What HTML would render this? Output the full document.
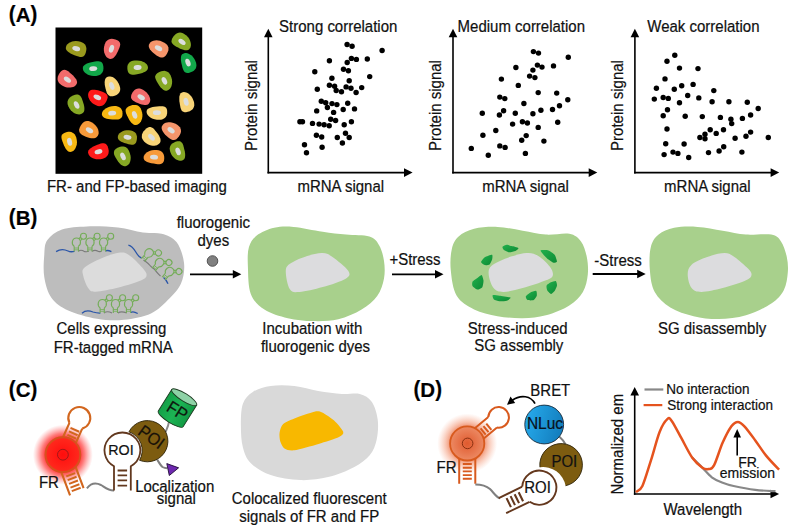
<!DOCTYPE html>
<html><head><meta charset="utf-8"><style>
html,body{margin:0;padding:0;background:#fff;width:798px;height:530px;overflow:hidden}
svg{display:block;font-family:"Liberation Sans",sans-serif}
text{stroke:#111;stroke-width:0.2px}
</style></head><body>
<svg width="798" height="530" viewBox="0 0 798 530">
<g font-size="20.5" font-weight="bold" fill="#000"><text transform="translate(8.80,21.00) scale(1,1.09)">(</text><text x="15.63" y="21.90">A</text><text transform="translate(30.43,21.00) scale(1,1.09)">)</text></g>
<rect x="55.5" y="27.5" width="146.7" height="146.3" fill="#000"/>
<g transform="translate(76.2,48.6) rotate(15)"><path d="M10.30,0.85 L10.17,2.86 L9.78,4.28 L9.14,5.39 L8.25,6.22 L7.13,6.77 L5.78,7.07 L4.21,7.14 L2.39,7.03 L0.00,6.78 L-2.39,6.49 L-4.21,6.11 L-5.78,5.67 L-7.13,5.14 L-8.25,4.54 L-9.14,3.85 L-9.78,3.06 L-10.17,2.13 L-10.30,0.85 L-10.17,-0.49 L-9.78,-1.61 L-9.14,-2.69 L-8.25,-3.75 L-7.13,-4.76 L-5.78,-5.70 L-4.21,-6.53 L-2.39,-7.19 L-0.00,-7.62 L2.39,-7.73 L4.21,-7.56 L5.78,-7.11 L7.13,-6.39 L8.25,-5.42 L9.14,-4.23 L9.78,-2.83 L10.17,-1.22Z" fill="#9a9a1e"/><ellipse rx="4" ry="2.4" fill="#dcdede"/></g>
<g transform="translate(111.5,48.8) rotate(108)"><path d="M10.09,-0.85 L9.97,0.51 L9.58,1.64 L8.95,2.73 L8.08,3.80 L6.98,4.83 L5.67,5.78 L4.13,6.62 L2.35,7.28 L0.00,7.72 L-2.35,7.83 L-4.13,7.66 L-5.67,7.21 L-6.98,6.48 L-8.08,5.51 L-8.95,4.30 L-9.58,2.88 L-9.97,1.24 L-10.09,-0.85 L-9.97,-2.89 L-9.58,-4.33 L-8.95,-5.46 L-8.08,-6.30 L-6.98,-6.86 L-5.67,-7.17 L-4.13,-7.25 L-2.35,-7.13 L-0.00,-6.88 L2.35,-6.58 L4.13,-6.20 L5.67,-5.74 L6.98,-5.21 L8.08,-4.60 L8.95,-3.90 L9.58,-3.10 L9.97,-2.15Z" fill="#f26b6b"/><ellipse rx="4" ry="2.4" fill="#dcdede"/></g>
<g transform="translate(158.5,48.2) rotate(30)"><path d="M10.09,0.57 L9.97,2.61 L9.58,4.09 L8.95,5.27 L8.08,6.17 L6.98,6.80 L5.67,7.17 L4.13,7.31 L2.35,7.25 L0.00,7.02 L-2.35,6.70 L-4.13,6.27 L-5.67,5.75 L-6.98,5.15 L-8.08,4.46 L-8.95,3.70 L-9.58,2.85 L-9.97,1.88 L-10.09,0.57 L-9.97,-0.78 L-9.58,-1.88 L-8.95,-2.93 L-8.08,-3.94 L-6.98,-4.89 L-5.67,-5.78 L-4.13,-6.55 L-2.35,-7.17 L-0.00,-7.58 L2.35,-7.72 L4.13,-7.59 L5.67,-7.20 L6.98,-6.55 L8.08,-5.64 L8.95,-4.49 L9.58,-3.12 L9.97,-1.52Z" fill="#f5956b"/><ellipse rx="4" ry="2.4" fill="#dcdede"/></g>
<g transform="translate(182.0,41.9) rotate(35)"><path d="M10.09,0.85 L9.97,2.15 L9.58,3.10 L8.95,3.90 L8.08,4.60 L6.98,5.21 L5.67,5.74 L4.13,6.20 L2.35,6.58 L0.00,6.88 L-2.35,7.13 L-4.13,7.25 L-5.67,7.17 L-6.98,6.86 L-8.08,6.30 L-8.95,5.46 L-9.58,4.33 L-9.97,2.89 L-10.09,0.85 L-9.97,-1.24 L-9.58,-2.88 L-8.95,-4.30 L-8.08,-5.51 L-6.98,-6.48 L-5.67,-7.21 L-4.13,-7.66 L-2.35,-7.83 L-0.00,-7.72 L2.35,-7.28 L4.13,-6.62 L5.67,-5.78 L6.98,-4.83 L8.08,-3.80 L8.95,-2.73 L9.58,-1.64 L9.97,-0.51Z" fill="#86a824"/><ellipse rx="4" ry="2.4" fill="#dcdede"/></g>
<g transform="translate(93.2,68.6) rotate(-5)"><path d="M10.30,-0.85 L10.17,1.16 L9.78,2.73 L9.14,4.10 L8.25,5.26 L7.13,6.21 L5.78,6.91 L4.21,7.35 L2.39,7.53 L0.00,7.42 L-2.39,7.00 L-4.21,6.35 L-5.78,5.55 L-7.13,4.62 L-8.25,3.63 L-9.14,2.60 L-9.78,1.54 L-10.17,0.45 L-10.30,-0.85 L-10.17,-2.10 L-9.78,-3.00 L-9.14,-3.76 L-8.25,-4.42 L-7.13,-5.00 L-5.78,-5.51 L-4.21,-5.94 L-2.39,-6.30 L-0.00,-6.58 L2.39,-6.82 L4.21,-6.94 L5.78,-6.87 L7.13,-6.59 L8.25,-6.06 L9.14,-5.26 L9.78,-4.18 L10.17,-2.80Z" fill="#12a84a"/><ellipse rx="4" ry="2.4" fill="#dcdede"/></g>
<g transform="translate(137.6,67.5) rotate(-5)"><path d="M10.30,0.57 L10.17,1.79 L9.78,2.69 L9.14,3.48 L8.25,4.18 L7.13,4.80 L5.78,5.36 L4.21,5.83 L2.39,6.22 L0.00,6.52 L-2.39,6.74 L-4.21,6.80 L-5.78,6.68 L-7.13,6.34 L-8.25,5.76 L-9.14,4.93 L-9.78,3.84 L-10.17,2.47 L-10.30,0.57 L-10.17,-1.38 L-9.78,-2.87 L-9.14,-4.16 L-8.25,-5.23 L-7.13,-6.09 L-5.78,-6.71 L-4.21,-7.08 L-2.39,-7.20 L-0.00,-7.08 L2.39,-6.69 L4.21,-6.11 L5.78,-5.38 L7.13,-4.55 L8.25,-3.65 L9.14,-2.70 L9.78,-1.72 L10.17,-0.69Z" fill="#86a824"/><ellipse rx="4" ry="2.4" fill="#dcdede"/></g>
<g transform="translate(188.0,62.6) rotate(70)"><path d="M10.09,0.85 L9.97,2.80 L9.58,4.18 L8.95,5.26 L8.08,6.06 L6.98,6.59 L5.67,6.87 L4.13,6.94 L2.35,6.82 L0.00,6.58 L-2.35,6.30 L-4.13,5.94 L-5.67,5.51 L-6.98,5.00 L-8.08,4.42 L-8.95,3.76 L-9.58,3.00 L-9.97,2.10 L-10.09,0.85 L-9.97,-0.45 L-9.58,-1.54 L-8.95,-2.60 L-8.08,-3.63 L-6.98,-4.62 L-5.67,-5.55 L-4.13,-6.35 L-2.35,-7.00 L-0.00,-7.42 L2.35,-7.53 L4.13,-7.35 L5.67,-6.91 L6.98,-6.21 L8.08,-5.26 L8.95,-4.10 L9.58,-2.73 L9.97,-1.16Z" fill="#12a84a"/><ellipse rx="4" ry="2.4" fill="#dcdede"/></g>
<g transform="translate(67.4,79.6) rotate(35)"><path d="M10.09,-0.85 L9.97,0.51 L9.58,1.64 L8.95,2.73 L8.08,3.80 L6.98,4.83 L5.67,5.78 L4.13,6.62 L2.35,7.28 L0.00,7.72 L-2.35,7.83 L-4.13,7.66 L-5.67,7.21 L-6.98,6.48 L-8.08,5.51 L-8.95,4.30 L-9.58,2.88 L-9.97,1.24 L-10.09,-0.85 L-9.97,-2.89 L-9.58,-4.33 L-8.95,-5.46 L-8.08,-6.30 L-6.98,-6.86 L-5.67,-7.17 L-4.13,-7.25 L-2.35,-7.13 L-0.00,-6.88 L2.35,-6.58 L4.13,-6.20 L5.67,-5.74 L6.98,-5.21 L8.08,-4.60 L8.95,-3.90 L9.58,-3.10 L9.97,-2.15Z" fill="#f26b6b"/><ellipse rx="4" ry="2.4" fill="#dcdede"/></g>
<g transform="translate(111.8,86.0) rotate(70)"><path d="M10.09,0.57 L9.97,2.53 L9.58,3.94 L8.95,5.06 L8.08,5.92 L6.98,6.52 L5.67,6.88 L4.13,7.01 L2.35,6.94 L0.00,6.72 L-2.35,6.41 L-4.13,6.01 L-5.67,5.51 L-6.98,4.94 L-8.08,4.29 L-8.95,3.57 L-9.58,2.76 L-9.97,1.82 L-10.09,0.57 L-9.97,-0.73 L-9.58,-1.79 L-8.95,-2.79 L-8.08,-3.76 L-6.98,-4.69 L-5.67,-5.54 L-4.13,-6.28 L-2.35,-6.88 L-0.00,-7.28 L2.35,-7.41 L4.13,-7.28 L5.67,-6.90 L6.98,-6.27 L8.08,-5.40 L8.95,-4.29 L9.58,-2.97 L9.97,-1.43Z" fill="#f8d478"/><ellipse rx="4" ry="2.4" fill="#dcdede"/></g>
<g transform="translate(164.4,80.8) rotate(65)"><path d="M10.09,0.85 L9.97,2.15 L9.58,3.10 L8.95,3.90 L8.08,4.60 L6.98,5.21 L5.67,5.74 L4.13,6.20 L2.35,6.58 L0.00,6.88 L-2.35,7.13 L-4.13,7.25 L-5.67,7.17 L-6.98,6.86 L-8.08,6.30 L-8.95,5.46 L-9.58,4.33 L-9.97,2.89 L-10.09,0.85 L-9.97,-1.24 L-9.58,-2.88 L-8.95,-4.30 L-8.08,-5.51 L-6.98,-6.48 L-5.67,-7.21 L-4.13,-7.66 L-2.35,-7.83 L-0.00,-7.72 L2.35,-7.28 L4.13,-6.62 L5.67,-5.78 L6.98,-4.83 L8.08,-3.80 L8.95,-2.73 L9.58,-1.64 L9.97,-0.51Z" fill="#86a824"/><ellipse rx="4" ry="2.4" fill="#dcdede"/></g>
<g transform="translate(97.3,97.3) rotate(25)"><path d="M9.89,-0.85 L9.76,1.24 L9.39,2.88 L8.77,4.30 L7.92,5.51 L6.84,6.48 L5.55,7.21 L4.04,7.66 L2.30,7.83 L0.00,7.72 L-2.30,7.28 L-4.04,6.62 L-5.55,5.78 L-6.84,4.83 L-7.92,3.80 L-8.77,2.73 L-9.39,1.64 L-9.76,0.51 L-9.89,-0.85 L-9.76,-2.15 L-9.39,-3.10 L-8.77,-3.90 L-7.92,-4.60 L-6.84,-5.21 L-5.55,-5.74 L-4.04,-6.20 L-2.30,-6.58 L-0.00,-6.88 L2.30,-7.13 L4.04,-7.25 L5.55,-7.17 L6.84,-6.86 L7.92,-6.30 L8.77,-5.46 L9.39,-4.33 L9.76,-2.89Z" fill="#fe1a1a"/><ellipse rx="4" ry="2.4" fill="#dcdede"/></g>
<g transform="translate(141.2,97.3) rotate(30)"><path d="M9.89,0.57 L9.76,1.82 L9.39,2.76 L8.77,3.57 L7.92,4.29 L6.84,4.94 L5.55,5.51 L4.04,6.01 L2.30,6.41 L0.00,6.72 L-2.30,6.94 L-4.04,7.01 L-5.55,6.88 L-6.84,6.52 L-7.92,5.92 L-8.77,5.06 L-9.39,3.94 L-9.76,2.53 L-9.89,0.57 L-9.76,-1.43 L-9.39,-2.97 L-8.77,-4.29 L-7.92,-5.40 L-6.84,-6.27 L-5.55,-6.90 L-4.04,-7.28 L-2.30,-7.41 L-0.00,-7.28 L2.30,-6.88 L4.04,-6.28 L5.55,-5.54 L6.84,-4.69 L7.92,-3.76 L8.77,-2.79 L9.39,-1.79 L9.76,-0.73Z" fill="#f26b6b"/><ellipse rx="4" ry="2.4" fill="#dcdede"/></g>
<g transform="translate(186.1,101.8) rotate(75)"><path d="M10.09,0.85 L9.97,2.80 L9.58,4.18 L8.95,5.26 L8.08,6.06 L6.98,6.59 L5.67,6.87 L4.13,6.94 L2.35,6.82 L0.00,6.58 L-2.35,6.30 L-4.13,5.94 L-5.67,5.51 L-6.98,5.00 L-8.08,4.42 L-8.95,3.76 L-9.58,3.00 L-9.97,2.10 L-10.09,0.85 L-9.97,-0.45 L-9.58,-1.54 L-8.95,-2.60 L-8.08,-3.63 L-6.98,-4.62 L-5.67,-5.55 L-4.13,-6.35 L-2.35,-7.00 L-0.00,-7.42 L2.35,-7.53 L4.13,-7.35 L5.67,-6.91 L6.98,-6.21 L8.08,-5.26 L8.95,-4.10 L9.58,-2.73 L9.97,-1.16Z" fill="#f8d478"/><ellipse rx="4" ry="2.4" fill="#dcdede"/></g>
<g transform="translate(76.6,105.0) rotate(65)"><path d="M10.09,-0.85 L9.97,0.54 L9.58,1.71 L8.95,2.83 L8.08,3.92 L6.98,4.97 L5.67,5.94 L4.13,6.79 L2.35,7.47 L0.00,7.92 L-2.35,8.04 L-4.13,7.86 L-5.67,7.40 L-6.98,6.67 L-8.08,5.67 L-8.95,4.43 L-9.58,2.97 L-9.97,1.30 L-10.09,-0.85 L-9.97,-2.94 L-9.58,-4.43 L-8.95,-5.59 L-8.08,-6.46 L-6.98,-7.05 L-5.67,-7.37 L-4.13,-7.45 L-2.35,-7.34 L-0.00,-7.08 L2.35,-6.77 L4.13,-6.38 L5.67,-5.90 L6.98,-5.35 L8.08,-4.71 L8.95,-3.99 L9.58,-3.16 L9.97,-2.19Z" fill="#86a824"/><ellipse rx="4" ry="2.4" fill="#dcdede"/></g>
<g transform="translate(112.2,113.2) rotate(-3)"><path d="M10.30,0.57 L10.17,2.41 L9.78,3.74 L9.14,4.80 L8.25,5.60 L7.13,6.16 L5.78,6.49 L4.21,6.60 L2.39,6.53 L0.00,6.32 L-2.39,6.03 L-4.21,5.66 L-5.78,5.20 L-7.13,4.66 L-8.25,4.06 L-9.14,3.39 L-9.78,2.63 L-10.17,1.75 L-10.30,0.57 L-10.17,-0.65 L-9.78,-1.66 L-9.14,-2.61 L-8.25,-3.53 L-7.13,-4.41 L-5.78,-5.22 L-4.21,-5.93 L-2.39,-6.50 L-0.00,-6.88 L2.39,-7.00 L4.21,-6.88 L5.78,-6.51 L7.13,-5.91 L8.25,-5.07 L9.14,-4.02 L9.78,-2.77 L10.17,-1.32Z" fill="#f7b813"/><ellipse rx="4" ry="2.4" fill="#dcdede"/></g>
<g transform="translate(134.6,114.9) rotate(70)"><path d="M10.09,0.85 L9.97,2.19 L9.58,3.16 L8.95,3.99 L8.08,4.71 L6.98,5.35 L5.67,5.90 L4.13,6.38 L2.35,6.77 L0.00,7.08 L-2.35,7.34 L-4.13,7.45 L-5.67,7.37 L-6.98,7.05 L-8.08,6.46 L-8.95,5.59 L-9.58,4.43 L-9.97,2.94 L-10.09,0.85 L-9.97,-1.30 L-9.58,-2.97 L-8.95,-4.43 L-8.08,-5.67 L-6.98,-6.67 L-5.67,-7.40 L-4.13,-7.86 L-2.35,-8.04 L-0.00,-7.92 L2.35,-7.47 L4.13,-6.79 L5.67,-5.94 L6.98,-4.97 L8.08,-3.92 L8.95,-2.83 L9.58,-1.71 L9.97,-0.54Z" fill="#f7b813"/><ellipse rx="4" ry="2.4" fill="#dcdede"/></g>
<g transform="translate(156.9,112.7) rotate(0)"><path d="M10.30,-0.85 L10.17,1.05 L9.78,2.53 L9.14,3.83 L8.25,4.94 L7.13,5.84 L5.78,6.52 L4.21,6.95 L2.39,7.12 L0.00,7.02 L-2.39,6.62 L-4.21,6.00 L-5.78,5.23 L-7.13,4.35 L-8.25,3.40 L-9.14,2.42 L-9.78,1.41 L-10.17,0.38 L-10.30,-0.85 L-10.17,-2.02 L-9.78,-2.87 L-9.14,-3.58 L-8.25,-4.19 L-7.13,-4.73 L-5.78,-5.19 L-4.21,-5.59 L-2.39,-5.92 L-0.00,-6.18 L2.39,-6.41 L4.21,-6.53 L5.78,-6.48 L7.13,-6.22 L8.25,-5.73 L9.14,-4.99 L9.78,-3.99 L10.17,-2.69Z" fill="#f8d478"/><ellipse rx="4" ry="2.4" fill="#dcdede"/></g>
<g transform="translate(89.5,130.3) rotate(30)"><path d="M9.89,0.57 L9.76,1.93 L9.39,2.95 L8.77,3.84 L7.92,4.64 L6.84,5.35 L5.55,5.99 L4.04,6.54 L2.30,6.98 L0.00,7.32 L-2.30,7.56 L-4.04,7.62 L-5.55,7.47 L-6.84,7.07 L-7.92,6.41 L-8.77,5.47 L-9.39,4.24 L-9.76,2.70 L-9.89,0.57 L-9.76,-1.60 L-9.39,-3.27 L-8.77,-4.69 L-7.92,-5.88 L-6.84,-6.82 L-5.55,-7.50 L-4.04,-7.90 L-2.30,-8.02 L-0.00,-7.88 L2.30,-7.45 L4.04,-6.81 L5.55,-6.01 L6.84,-5.10 L7.92,-4.11 L8.77,-3.06 L9.39,-1.98 L9.76,-0.84Z" fill="#f79a3a"/><ellipse rx="4" ry="2.4" fill="#dcdede"/></g>
<g transform="translate(127.5,137.3) rotate(10)"><path d="M9.58,0.85 L9.46,2.74 L9.10,4.08 L8.50,5.13 L7.67,5.89 L6.63,6.41 L5.38,6.68 L3.92,6.74 L2.23,6.62 L0.00,6.38 L-2.23,6.11 L-3.92,5.76 L-5.38,5.35 L-6.63,4.87 L-7.67,4.31 L-8.50,3.67 L-9.10,2.93 L-9.46,2.06 L-9.58,0.85 L-9.46,-0.42 L-9.10,-1.48 L-8.50,-2.51 L-7.67,-3.52 L-6.63,-4.49 L-5.38,-5.39 L-3.92,-6.18 L-2.23,-6.81 L-0.00,-7.22 L2.23,-7.32 L3.92,-7.15 L5.38,-6.71 L6.63,-6.03 L7.67,-5.10 L8.50,-3.96 L9.10,-2.63 L9.46,-1.10Z" fill="#9a9a1e"/><ellipse rx="4" ry="2.4" fill="#dcdede"/></g>
<g transform="translate(151.5,137.3) rotate(45)"><path d="M9.89,-0.85 L9.76,0.56 L9.39,1.74 L8.77,2.87 L7.92,3.98 L6.84,5.04 L5.55,6.02 L4.04,6.88 L2.30,7.57 L0.00,8.02 L-2.30,8.14 L-4.04,7.97 L-5.55,7.50 L-6.84,6.76 L-7.92,5.75 L-8.77,4.50 L-9.39,3.02 L-9.76,1.33 L-9.89,-0.85 L-9.76,-2.97 L-9.39,-4.48 L-8.77,-5.66 L-7.92,-6.54 L-6.84,-7.14 L-5.55,-7.46 L-4.04,-7.55 L-2.30,-7.44 L-0.00,-7.18 L2.30,-6.87 L4.04,-6.47 L5.55,-5.98 L6.84,-5.42 L7.92,-4.77 L8.77,-4.03 L9.39,-3.19 L9.76,-2.21Z" fill="#f8d478"/><ellipse rx="4" ry="2.4" fill="#dcdede"/></g>
<g transform="translate(171.1,130.3) rotate(35)"><path d="M9.89,0.57 L9.76,2.70 L9.39,4.24 L8.77,5.47 L7.92,6.41 L6.84,7.07 L5.55,7.47 L4.04,7.62 L2.30,7.56 L0.00,7.32 L-2.30,6.98 L-4.04,6.54 L-5.55,5.99 L-6.84,5.35 L-7.92,4.64 L-8.77,3.84 L-9.39,2.95 L-9.76,1.93 L-9.89,0.57 L-9.76,-0.84 L-9.39,-1.98 L-8.77,-3.06 L-7.92,-4.11 L-6.84,-5.10 L-5.55,-6.01 L-4.04,-6.81 L-2.30,-7.45 L-0.00,-7.88 L2.30,-8.02 L4.04,-7.90 L5.55,-7.50 L6.84,-6.82 L7.92,-5.88 L8.77,-4.69 L9.39,-3.27 L9.76,-1.60Z" fill="#f5956b"/><ellipse rx="4" ry="2.4" fill="#dcdede"/></g>
<g transform="translate(69.6,141.8) rotate(75)"><path d="M10.09,0.85 L9.97,2.10 L9.58,3.00 L8.95,3.76 L8.08,4.42 L6.98,5.00 L5.67,5.51 L4.13,5.94 L2.35,6.30 L0.00,6.58 L-2.35,6.82 L-4.13,6.94 L-5.67,6.87 L-6.98,6.59 L-8.08,6.06 L-8.95,5.26 L-9.58,4.18 L-9.97,2.80 L-10.09,0.85 L-9.97,-1.16 L-9.58,-2.73 L-8.95,-4.10 L-8.08,-5.26 L-6.98,-6.21 L-5.67,-6.91 L-4.13,-7.35 L-2.35,-7.53 L-0.00,-7.42 L2.35,-7.00 L4.13,-6.35 L5.67,-5.55 L6.98,-4.62 L8.08,-3.63 L8.95,-2.60 L9.58,-1.54 L9.97,-0.45Z" fill="#f7b813"/><ellipse rx="4" ry="2.4" fill="#dcdede"/></g>
<g transform="translate(98.5,151.7) rotate(-15)"><path d="M10.30,-0.85 L10.17,1.24 L9.78,2.88 L9.14,4.30 L8.25,5.51 L7.13,6.48 L5.78,7.21 L4.21,7.66 L2.39,7.83 L0.00,7.72 L-2.39,7.28 L-4.21,6.62 L-5.78,5.78 L-7.13,4.83 L-8.25,3.80 L-9.14,2.73 L-9.78,1.64 L-10.17,0.51 L-10.30,-0.85 L-10.17,-2.15 L-9.78,-3.10 L-9.14,-3.90 L-8.25,-4.60 L-7.13,-5.21 L-5.78,-5.74 L-4.21,-6.20 L-2.39,-6.58 L-0.00,-6.88 L2.39,-7.13 L4.21,-7.25 L5.78,-7.17 L7.13,-6.86 L8.25,-6.30 L9.14,-5.46 L9.78,-4.33 L10.17,-2.89Z" fill="#fe1a1a"/><ellipse rx="4" ry="2.4" fill="#dcdede"/></g>
<g transform="translate(123.0,156.4) rotate(65)"><path d="M10.09,0.57 L9.97,1.88 L9.58,2.85 L8.95,3.70 L8.08,4.46 L6.98,5.15 L5.67,5.75 L4.13,6.27 L2.35,6.70 L0.00,7.02 L-2.35,7.25 L-4.13,7.31 L-5.67,7.17 L-6.98,6.80 L-8.08,6.17 L-8.95,5.27 L-9.58,4.09 L-9.97,2.61 L-10.09,0.57 L-9.97,-1.52 L-9.58,-3.12 L-8.95,-4.49 L-8.08,-5.64 L-6.98,-6.55 L-5.67,-7.20 L-4.13,-7.59 L-2.35,-7.72 L-0.00,-7.58 L2.35,-7.17 L4.13,-6.55 L5.67,-5.78 L6.98,-4.89 L8.08,-3.94 L8.95,-2.93 L9.58,-1.88 L9.97,-0.78Z" fill="#86a824"/><ellipse rx="4" ry="2.4" fill="#dcdede"/></g>
<g transform="translate(154.0,157.2) rotate(3)"><path d="M10.30,0.85 L10.17,2.74 L9.78,4.08 L9.14,5.13 L8.25,5.89 L7.13,6.41 L5.78,6.68 L4.21,6.74 L2.39,6.62 L0.00,6.38 L-2.39,6.11 L-4.21,5.76 L-5.78,5.35 L-7.13,4.87 L-8.25,4.31 L-9.14,3.67 L-9.78,2.93 L-10.17,2.06 L-10.30,0.85 L-10.17,-0.42 L-9.78,-1.48 L-9.14,-2.51 L-8.25,-3.52 L-7.13,-4.49 L-5.78,-5.39 L-4.21,-6.18 L-2.39,-6.81 L-0.00,-7.22 L2.39,-7.32 L4.21,-7.15 L5.78,-6.71 L7.13,-6.03 L8.25,-5.10 L9.14,-3.96 L9.78,-2.63 L10.17,-1.10Z" fill="#f79a3a"/><ellipse rx="4" ry="2.4" fill="#dcdede"/></g>
<g transform="translate(178.1,151.4) rotate(70)"><path d="M9.89,-0.85 L9.76,0.45 L9.39,1.54 L8.77,2.60 L7.92,3.63 L6.84,4.62 L5.55,5.55 L4.04,6.35 L2.30,7.00 L0.00,7.42 L-2.30,7.53 L-4.04,7.35 L-5.55,6.91 L-6.84,6.21 L-7.92,5.26 L-8.77,4.10 L-9.39,2.73 L-9.76,1.16 L-9.89,-0.85 L-9.76,-2.80 L-9.39,-4.18 L-8.77,-5.26 L-7.92,-6.06 L-6.84,-6.59 L-5.55,-6.87 L-4.04,-6.94 L-2.30,-6.82 L-0.00,-6.58 L2.30,-6.30 L4.04,-5.94 L5.55,-5.51 L6.84,-5.00 L7.92,-4.42 L8.77,-3.76 L9.39,-3.00 L9.76,-2.10Z" fill="#86a824"/><ellipse rx="4" ry="2.4" fill="#dcdede"/></g>
<text transform="translate(136.90,192.00) scale(1,1.05)" font-size="15" text-anchor="middle" font-weight="normal" fill="#111" >FR- and FP-based imaging</text>
<line x1="268.3" y1="173.4" x2="268.3" y2="35.7" stroke="#000" stroke-width="1.6"/>
<path d="M268.3,28.7 L264.0,37.3 L272.6,37.3 Z" fill="#000"/>
<line x1="267.5" y1="172.6" x2="405.6" y2="172.6" stroke="#000" stroke-width="1.6"/>
<path d="M412.6,172.6 L404.0,168.3 L404.0,176.9 Z" fill="#000"/>
<circle cx="347.1" cy="44.5" r="2.7" fill="#000"/>
<circle cx="352.1" cy="46.2" r="2.7" fill="#000"/>
<circle cx="382.1" cy="50.5" r="2.7" fill="#000"/>
<circle cx="329.4" cy="60.8" r="2.7" fill="#000"/>
<circle cx="351.4" cy="58.4" r="2.7" fill="#000"/>
<circle cx="356.4" cy="59.4" r="2.7" fill="#000"/>
<circle cx="367.3" cy="59.0" r="2.7" fill="#000"/>
<circle cx="347.2" cy="62.5" r="2.7" fill="#000"/>
<circle cx="314.8" cy="71.7" r="2.7" fill="#000"/>
<circle cx="343.5" cy="69.3" r="2.7" fill="#000"/>
<circle cx="348.4" cy="70.7" r="2.7" fill="#000"/>
<circle cx="369.7" cy="76.6" r="2.7" fill="#000"/>
<circle cx="331.9" cy="78.3" r="2.7" fill="#000"/>
<circle cx="349.2" cy="80.8" r="2.7" fill="#000"/>
<circle cx="329.4" cy="85.2" r="2.7" fill="#000"/>
<circle cx="334.6" cy="86.3" r="2.7" fill="#000"/>
<circle cx="336.2" cy="90.5" r="2.7" fill="#000"/>
<circle cx="341.5" cy="91.8" r="2.7" fill="#000"/>
<circle cx="346.1" cy="86.9" r="2.7" fill="#000"/>
<circle cx="351.0" cy="88.2" r="2.7" fill="#000"/>
<circle cx="361.7" cy="87.6" r="2.7" fill="#000"/>
<circle cx="356.1" cy="92.5" r="2.7" fill="#000"/>
<circle cx="317.3" cy="89.2" r="2.7" fill="#000"/>
<circle cx="321.3" cy="101.3" r="2.7" fill="#000"/>
<circle cx="325.7" cy="102.7" r="2.7" fill="#000"/>
<circle cx="327.4" cy="107.5" r="2.7" fill="#000"/>
<circle cx="332.0" cy="103.6" r="2.7" fill="#000"/>
<circle cx="336.9" cy="104.6" r="2.7" fill="#000"/>
<circle cx="347.7" cy="103.3" r="2.7" fill="#000"/>
<circle cx="343.2" cy="109.5" r="2.7" fill="#000"/>
<circle cx="354.5" cy="108.9" r="2.7" fill="#000"/>
<circle cx="316.7" cy="110.9" r="2.7" fill="#000"/>
<circle cx="333.6" cy="112.4" r="2.7" fill="#000"/>
<circle cx="299.9" cy="121.7" r="2.7" fill="#000"/>
<circle cx="302.5" cy="121.7" r="2.7" fill="#000"/>
<circle cx="312.5" cy="123.4" r="2.7" fill="#000"/>
<circle cx="319.1" cy="124.1" r="2.7" fill="#000"/>
<circle cx="324.1" cy="124.7" r="2.7" fill="#000"/>
<circle cx="329.2" cy="125.8" r="2.7" fill="#000"/>
<circle cx="330.7" cy="119.2" r="2.7" fill="#000"/>
<circle cx="335.6" cy="120.5" r="2.7" fill="#000"/>
<circle cx="344.2" cy="124.7" r="2.7" fill="#000"/>
<circle cx="351.4" cy="121.7" r="2.7" fill="#000"/>
<circle cx="316.4" cy="135.3" r="2.7" fill="#000"/>
<circle cx="321.7" cy="137.0" r="2.7" fill="#000"/>
<circle cx="337.3" cy="137.5" r="2.7" fill="#000"/>
<circle cx="345.5" cy="133.3" r="2.7" fill="#000"/>
<circle cx="349.2" cy="137.5" r="2.7" fill="#000"/>
<circle cx="342.4" cy="143.0" r="2.7" fill="#000"/>
<circle cx="304.5" cy="144.8" r="2.7" fill="#000"/>
<circle cx="322.1" cy="147.2" r="2.7" fill="#000"/>
<circle cx="306.5" cy="152.7" r="2.7" fill="#000"/>
<text transform="translate(338.20,31.90) scale(1,1.05)" font-size="15" text-anchor="middle" font-weight="normal" fill="#111" >Strong correlation</text>
<text transform="translate(340.80,191.90) scale(1,1.05)" font-size="15" text-anchor="middle" font-weight="normal" fill="#111" >mRNA signal</text>
<text transform="translate(256.7,105.5) rotate(-90) scale(1,1.05)" font-size="15" text-anchor="middle" fill="#111">Protein signal</text>
<line x1="453.0" y1="173.4" x2="453.0" y2="35.7" stroke="#000" stroke-width="1.6"/>
<path d="M453.0,28.7 L448.7,37.3 L457.3,37.3 Z" fill="#000"/>
<line x1="452.2" y1="172.6" x2="590.3" y2="172.6" stroke="#000" stroke-width="1.6"/>
<path d="M597.3,172.6 L588.7,168.3 L588.7,176.9 Z" fill="#000"/>
<circle cx="533.4" cy="51.6" r="2.7" fill="#000"/>
<circle cx="538.5" cy="53.1" r="2.7" fill="#000"/>
<circle cx="568.3" cy="57.3" r="2.7" fill="#000"/>
<circle cx="515.9" cy="67.5" r="2.7" fill="#000"/>
<circle cx="537.4" cy="65.1" r="2.7" fill="#000"/>
<circle cx="542.0" cy="67.1" r="2.7" fill="#000"/>
<circle cx="553.5" cy="65.9" r="2.7" fill="#000"/>
<circle cx="532.9" cy="70.1" r="2.7" fill="#000"/>
<circle cx="501.4" cy="79.1" r="2.7" fill="#000"/>
<circle cx="518.3" cy="85.4" r="2.7" fill="#000"/>
<circle cx="529.6" cy="76.1" r="2.7" fill="#000"/>
<circle cx="534.9" cy="77.6" r="2.7" fill="#000"/>
<circle cx="538.2" cy="92.6" r="2.7" fill="#000"/>
<circle cx="556.7" cy="93.1" r="2.7" fill="#000"/>
<circle cx="499.8" cy="97.1" r="2.7" fill="#000"/>
<circle cx="504.8" cy="98.6" r="2.7" fill="#000"/>
<circle cx="523.9" cy="103.5" r="2.7" fill="#000"/>
<circle cx="567.8" cy="99.7" r="2.7" fill="#000"/>
<circle cx="559.5" cy="105.7" r="2.7" fill="#000"/>
<circle cx="482.3" cy="113.2" r="2.7" fill="#000"/>
<circle cx="499.4" cy="115.0" r="2.7" fill="#000"/>
<circle cx="503.6" cy="110.8" r="2.7" fill="#000"/>
<circle cx="515.3" cy="113.2" r="2.7" fill="#000"/>
<circle cx="532.9" cy="113.8" r="2.7" fill="#000"/>
<circle cx="540.9" cy="110.2" r="2.7" fill="#000"/>
<circle cx="552.5" cy="109.5" r="2.7" fill="#000"/>
<circle cx="557.7" cy="122.3" r="2.7" fill="#000"/>
<circle cx="512.6" cy="124.1" r="2.7" fill="#000"/>
<circle cx="522.4" cy="121.8" r="2.7" fill="#000"/>
<circle cx="527.4" cy="123.0" r="2.7" fill="#000"/>
<circle cx="538.2" cy="127.4" r="2.7" fill="#000"/>
<circle cx="495.8" cy="130.5" r="2.7" fill="#000"/>
<circle cx="482.9" cy="135.3" r="2.7" fill="#000"/>
<circle cx="526.2" cy="135.6" r="2.7" fill="#000"/>
<circle cx="521.7" cy="140.2" r="2.7" fill="#000"/>
<circle cx="543.9" cy="141.1" r="2.7" fill="#000"/>
<circle cx="471.3" cy="148.4" r="2.7" fill="#000"/>
<circle cx="499.8" cy="145.9" r="2.7" fill="#000"/>
<circle cx="505.1" cy="147.4" r="2.7" fill="#000"/>
<circle cx="488.3" cy="155.2" r="2.7" fill="#000"/>
<circle cx="525.4" cy="153.4" r="2.7" fill="#000"/>
<text transform="translate(521.30,31.90) scale(1,1.05)" font-size="15" text-anchor="middle" font-weight="normal" fill="#111" >Medium correlation</text>
<text transform="translate(525.50,191.90) scale(1,1.05)" font-size="15" text-anchor="middle" font-weight="normal" fill="#111" >mRNA signal</text>
<text transform="translate(441.4,105.5) rotate(-90) scale(1,1.05)" font-size="15" text-anchor="middle" fill="#111">Protein signal</text>
<line x1="634.9" y1="173.4" x2="634.9" y2="35.7" stroke="#000" stroke-width="1.6"/>
<path d="M634.9,28.7 L630.6,37.3 L639.2,37.3 Z" fill="#000"/>
<line x1="634.1" y1="172.6" x2="772.2" y2="172.6" stroke="#000" stroke-width="1.6"/>
<path d="M779.2,172.6 L770.6,168.3 L770.6,176.9 Z" fill="#000"/>
<circle cx="674.8" cy="55.3" r="2.7" fill="#000"/>
<circle cx="667.0" cy="61.3" r="2.7" fill="#000"/>
<circle cx="679.5" cy="68.1" r="2.7" fill="#000"/>
<circle cx="698.0" cy="68.6" r="2.7" fill="#000"/>
<circle cx="665.0" cy="78.9" r="2.7" fill="#000"/>
<circle cx="656.4" cy="88.2" r="2.7" fill="#000"/>
<circle cx="674.3" cy="89.3" r="2.7" fill="#000"/>
<circle cx="681.7" cy="85.7" r="2.7" fill="#000"/>
<circle cx="693.1" cy="84.4" r="2.7" fill="#000"/>
<circle cx="713.8" cy="90.6" r="2.7" fill="#000"/>
<circle cx="654.3" cy="99.1" r="2.7" fill="#000"/>
<circle cx="663.2" cy="97.5" r="2.7" fill="#000"/>
<circle cx="668.3" cy="98.4" r="2.7" fill="#000"/>
<circle cx="687.7" cy="95.5" r="2.7" fill="#000"/>
<circle cx="698.8" cy="97.9" r="2.7" fill="#000"/>
<circle cx="679.5" cy="102.8" r="2.7" fill="#000"/>
<circle cx="712.1" cy="101.7" r="2.7" fill="#000"/>
<circle cx="728.9" cy="101.7" r="2.7" fill="#000"/>
<circle cx="747.3" cy="102.3" r="2.7" fill="#000"/>
<circle cx="758.2" cy="108.5" r="2.7" fill="#000"/>
<circle cx="667.5" cy="109.8" r="2.7" fill="#000"/>
<circle cx="663.2" cy="115.8" r="2.7" fill="#000"/>
<circle cx="685.2" cy="116.3" r="2.7" fill="#000"/>
<circle cx="702.3" cy="116.6" r="2.7" fill="#000"/>
<circle cx="720.4" cy="117.4" r="2.7" fill="#000"/>
<circle cx="730.9" cy="119.2" r="2.7" fill="#000"/>
<circle cx="731.7" cy="123.6" r="2.7" fill="#000"/>
<circle cx="742.4" cy="118.4" r="2.7" fill="#000"/>
<circle cx="750.6" cy="115.0" r="2.7" fill="#000"/>
<circle cx="667.0" cy="129.0" r="2.7" fill="#000"/>
<circle cx="710.2" cy="129.7" r="2.7" fill="#000"/>
<circle cx="716.2" cy="133.4" r="2.7" fill="#000"/>
<circle cx="723.5" cy="129.7" r="2.7" fill="#000"/>
<circle cx="705.0" cy="134.2" r="2.7" fill="#000"/>
<circle cx="699.9" cy="137.5" r="2.7" fill="#000"/>
<circle cx="705.0" cy="138.8" r="2.7" fill="#000"/>
<circle cx="735.1" cy="138.3" r="2.7" fill="#000"/>
<circle cx="746.0" cy="136.2" r="2.7" fill="#000"/>
<circle cx="750.6" cy="132.1" r="2.7" fill="#000"/>
<circle cx="768.3" cy="137.5" r="2.7" fill="#000"/>
<circle cx="665.7" cy="143.7" r="2.7" fill="#000"/>
<circle cx="684.1" cy="144.0" r="2.7" fill="#000"/>
<circle cx="723.7" cy="146.8" r="2.7" fill="#000"/>
<circle cx="664.1" cy="154.6" r="2.7" fill="#000"/>
<circle cx="673.0" cy="152.1" r="2.7" fill="#000"/>
<circle cx="677.9" cy="153.4" r="2.7" fill="#000"/>
<circle cx="688.7" cy="157.5" r="2.7" fill="#000"/>
<circle cx="708.5" cy="152.6" r="2.7" fill="#000"/>
<circle cx="719.1" cy="151.0" r="2.7" fill="#000"/>
<circle cx="741.9" cy="152.1" r="2.7" fill="#000"/>
<text transform="translate(703.40,31.90) scale(1,1.05)" font-size="15" text-anchor="middle" font-weight="normal" fill="#111" >Weak correlation</text>
<text transform="translate(707.40,191.90) scale(1,1.05)" font-size="15" text-anchor="middle" font-weight="normal" fill="#111" >mRNA signal</text>
<text transform="translate(623.3,105.5) rotate(-90) scale(1,1.05)" font-size="15" text-anchor="middle" fill="#111">Protein signal</text>
<g font-size="20.5" font-weight="bold" fill="#000"><text transform="translate(8.80,223.60) scale(1,1.09)">(</text><text x="15.63" y="224.50">B</text><text transform="translate(30.43,223.60) scale(1,1.09)">)</text></g>
<path d="M44.3,254.5 C44.8,248.3 44.4,244.2 47.4,240.0 C50.4,235.8 55.4,231.8 62.0,229.5 C68.6,227.2 77.6,226.7 86.9,226.4 C96.2,226.1 108.7,226.5 118.0,227.5 C127.3,228.5 135.6,231.6 142.9,232.6 C150.2,233.6 156.0,232.1 161.6,233.7 C167.2,235.3 172.8,237.2 176.5,242.0 C180.2,246.8 183.2,255.8 184.0,262.7 C184.8,269.6 183.7,277.3 181.0,283.5 C178.3,289.7 172.8,295.1 167.8,300.1 C162.8,305.1 158.3,310.2 151.0,313.5 C143.7,316.8 133.0,318.9 124.0,319.8 C115.0,320.7 106.3,320.4 97.0,318.8 C87.7,317.2 75.8,314.0 68.2,310.5 C60.6,307.0 55.6,303.5 51.6,298.0 C47.6,292.5 45.5,284.6 44.3,277.3 C43.1,270.1 43.8,260.7 44.3,254.5 Z" fill="#bdbdbd"/>
<path d="M84.3,267.8 C87.2,264.9 95.3,261.0 101.0,258.5 C106.7,256.0 113.9,253.4 118.6,252.8 C123.2,252.2 124.9,252.4 128.9,254.9 C132.9,257.4 139.5,264.4 142.4,267.8 C145.3,271.2 146.8,273.0 146.6,275.1 C146.4,277.2 146.1,278.2 141.4,280.3 C136.7,282.4 126.2,285.6 118.6,287.5 C111.0,289.4 100.7,291.5 95.7,291.7 C90.7,291.9 90.6,291.2 88.5,288.6 C86.4,286.0 84.0,279.6 83.3,276.1 C82.6,272.6 81.3,270.7 84.3,267.8 Z" fill="#dcdcdc"/>
<path d="M56.1,251.6 C60,249 65,249.5 68,251 C70,252 72,252 74.5,251.3" fill="none" stroke="#2a55a8" stroke-width="1.3"/>
<path d="M78.3,251.3 C80,250 82,250 84,251.3 C86,252.5 88,251 89,251.3 M92,251.3 C94,250 96,250 98,251.3 C99,252 100,251.6 101.5,251.3" fill="none" stroke="#7a7a7a" stroke-width="1.1"/>
<path d="M105.3,251 C107,250 109,250.5 111.4,251.6" fill="none" stroke="#2a55a8" stroke-width="1.3"/>
<g transform="translate(76.3,251.6) rotate(0.0)" fill="none" stroke="#74ad58" stroke-width="1.1"><path d="M-2.1,0 V-5.4 M2.1,0 V-5.4"/><path d="M-2.1,-1.8 H2.1 M-2.1,-3.6 H2.1" stroke-width="0.8"/><path d="M-2.1,-5.4 C-5.2,-7.2 -4.6,-13.6 0.2,-13.6 C4.8,-13.6 5.4,-7.4 2.1,-5.4"/><path d="M4.05,-11.04 L5.82,-12.51 M2.51,-12.88 L4.28,-14.35"/><circle cx="7.2" cy="-15.3" r="3"/></g>
<g transform="translate(89.9,251.6) rotate(0.0)" fill="none" stroke="#74ad58" stroke-width="1.1"><path d="M-2.1,0 V-5.4 M2.1,0 V-5.4"/><path d="M-2.1,-1.8 H2.1 M-2.1,-3.6 H2.1" stroke-width="0.8"/><path d="M-2.1,-5.4 C-5.2,-7.2 -4.6,-13.6 0.2,-13.6 C4.8,-13.6 5.4,-7.4 2.1,-5.4"/><path d="M4.05,-11.04 L5.82,-12.51 M2.51,-12.88 L4.28,-14.35"/><circle cx="7.2" cy="-15.3" r="3"/></g>
<g transform="translate(103.5,251.6) rotate(0.0)" fill="none" stroke="#74ad58" stroke-width="1.1"><path d="M-2.1,0 V-5.4 M2.1,0 V-5.4"/><path d="M-2.1,-1.8 H2.1 M-2.1,-3.6 H2.1" stroke-width="0.8"/><path d="M-2.1,-5.4 C-5.2,-7.2 -4.6,-13.6 0.2,-13.6 C4.8,-13.6 5.4,-7.4 2.1,-5.4"/><path d="M4.05,-11.04 L5.82,-12.51 M2.51,-12.88 L4.28,-14.35"/><circle cx="7.2" cy="-15.3" r="3"/></g>
<path d="M82,313.2 C85,310.5 89,310.5 93,312 C96,313 98,313.2 100.4,313.1" fill="none" stroke="#2a55a8" stroke-width="1.3"/>
<path d="M104,313 C106,311.5 109,311.5 112,313 M118,313 C120,311.5 123,311.5 126.8,313" fill="none" stroke="#7a7a7a" stroke-width="1.1"/>
<path d="M130.7,312.6 C132,311.5 134,311.3 137.7,313.5" fill="none" stroke="#2a55a8" stroke-width="1.3"/>
<g transform="translate(102.2,313.1) rotate(0.0)" fill="none" stroke="#74ad58" stroke-width="1.1"><path d="M-2.1,0 V-5.4 M2.1,0 V-5.4"/><path d="M-2.1,-1.8 H2.1 M-2.1,-3.6 H2.1" stroke-width="0.8"/><path d="M-2.1,-5.4 C-5.2,-7.2 -4.6,-13.6 0.2,-13.6 C4.8,-13.6 5.4,-7.4 2.1,-5.4"/><path d="M4.05,-11.04 L5.82,-12.51 M2.51,-12.88 L4.28,-14.35"/><circle cx="7.2" cy="-15.3" r="3"/></g>
<g transform="translate(115.4,313.1) rotate(0.0)" fill="none" stroke="#74ad58" stroke-width="1.1"><path d="M-2.1,0 V-5.4 M2.1,0 V-5.4"/><path d="M-2.1,-1.8 H2.1 M-2.1,-3.6 H2.1" stroke-width="0.8"/><path d="M-2.1,-5.4 C-5.2,-7.2 -4.6,-13.6 0.2,-13.6 C4.8,-13.6 5.4,-7.4 2.1,-5.4"/><path d="M4.05,-11.04 L5.82,-12.51 M2.51,-12.88 L4.28,-14.35"/><circle cx="7.2" cy="-15.3" r="3"/></g>
<g transform="translate(128.5,313.1) rotate(0.0)" fill="none" stroke="#74ad58" stroke-width="1.1"><path d="M-2.1,0 V-5.4 M2.1,0 V-5.4"/><path d="M-2.1,-1.8 H2.1 M-2.1,-3.6 H2.1" stroke-width="0.8"/><path d="M-2.1,-5.4 C-5.2,-7.2 -4.6,-13.6 0.2,-13.6 C4.8,-13.6 5.4,-7.4 2.1,-5.4"/><path d="M4.05,-11.04 L5.82,-12.51 M2.51,-12.88 L4.28,-14.35"/><circle cx="7.2" cy="-15.3" r="3"/></g>
<path d="M128.4,245.1 C132,246 134,249 135.8,252 C137.5,255 139,257 141.5,258.2" fill="none" stroke="#2a55a8" stroke-width="1.3"/>
<path d="M143.5,260 C146,262 148,263 150,265.5 C152,268 153,267.5 155,270 C157,272.5 158,274 160.5,276" fill="none" stroke="#7a7a7a" stroke-width="1.2"/>
<path d="M163.5,277.5 C165.5,279 166.8,281 168,283.8" fill="none" stroke="#2a55a8" stroke-width="1.3"/>
<g transform="translate(143.1,260.0) rotate(40.0)" fill="none" stroke="#74ad58" stroke-width="1.1"><path d="M-2.1,0 V-5.4 M2.1,0 V-5.4"/><path d="M-2.1,-1.8 H2.1 M-2.1,-3.6 H2.1" stroke-width="0.8"/><path d="M-2.1,-5.4 C-5.2,-7.2 -4.6,-13.6 0.2,-13.6 C4.8,-13.6 5.4,-7.4 2.1,-5.4"/><path d="M4.05,-11.04 L5.82,-12.51 M2.51,-12.88 L4.28,-14.35"/><circle cx="7.2" cy="-15.3" r="3"/></g>
<g transform="translate(153.6,269.6) rotate(40.0)" fill="none" stroke="#74ad58" stroke-width="1.1"><path d="M-2.1,0 V-5.4 M2.1,0 V-5.4"/><path d="M-2.1,-1.8 H2.1 M-2.1,-3.6 H2.1" stroke-width="0.8"/><path d="M-2.1,-5.4 C-5.2,-7.2 -4.6,-13.6 0.2,-13.6 C4.8,-13.6 5.4,-7.4 2.1,-5.4"/><path d="M4.05,-11.04 L5.82,-12.51 M2.51,-12.88 L4.28,-14.35"/><circle cx="7.2" cy="-15.3" r="3"/></g>
<g transform="translate(163.6,278.6) rotate(40.0)" fill="none" stroke="#74ad58" stroke-width="1.1"><path d="M-2.1,0 V-5.4 M2.1,0 V-5.4"/><path d="M-2.1,-1.8 H2.1 M-2.1,-3.6 H2.1" stroke-width="0.8"/><path d="M-2.1,-5.4 C-5.2,-7.2 -4.6,-13.6 0.2,-13.6 C4.8,-13.6 5.4,-7.4 2.1,-5.4"/><path d="M4.05,-11.04 L5.82,-12.51 M2.51,-12.88 L4.28,-14.35"/><circle cx="7.2" cy="-15.3" r="3"/></g>
<text transform="translate(111.50,333.80) scale(1,1.05)" font-size="15" text-anchor="middle" font-weight="normal" fill="#111" >Cells expressing</text>
<text transform="translate(113.20,352.50) scale(1,1.05)" font-size="15" text-anchor="middle" font-weight="normal" fill="#111" >FR-tagged mRNA</text>
<text transform="translate(213.30,228.40) scale(1,1.05)" font-size="15" text-anchor="middle" font-weight="normal" fill="#111" >fluorogenic</text>
<text transform="translate(213.30,245.90) scale(1,1.05)" font-size="15" text-anchor="middle" font-weight="normal" fill="#111" >dyes</text>
<circle cx="212.5" cy="261.0" r="5.3" fill="#808080" stroke="#4a4a4a" stroke-width="0.9"/>
<line x1="190.0" y1="274.3" x2="235.3" y2="274.3" stroke="#000" stroke-width="1.8"/>
<path d="M241.3,274.3 L232.8,270.1 L232.8,278.5 Z" fill="#000"/>
<line x1="392.0" y1="274.3" x2="437.5" y2="274.3" stroke="#000" stroke-width="1.8"/>
<path d="M443.5,274.3 L435.0,270.1 L435.0,278.5 Z" fill="#000"/>
<line x1="592.7" y1="274.0" x2="639.7" y2="274.0" stroke="#000" stroke-width="1.8"/>
<path d="M645.7,274.0 L637.2,269.8 L637.2,278.2 Z" fill="#000"/>
<text transform="translate(415.00,264.90) scale(1,1.05)" font-size="15" text-anchor="middle" font-weight="normal" fill="#111" >+Stress</text>
<text transform="translate(618.00,265.60) scale(1,1.05)" font-size="15" text-anchor="middle" font-weight="normal" fill="#111" >-Stress</text>
<path d="M247.9,266.7 C247.6,258.9 247.4,252.5 248.9,247.3 C250.4,242.1 252.5,238.8 256.7,235.6 C260.9,232.3 268.0,229.2 274.2,227.8 C280.4,226.4 285.5,226.2 293.6,226.9 C301.7,227.6 313.9,230.4 322.7,231.7 C331.4,233.0 338.3,233.8 346.1,234.6 C353.9,235.4 363.9,234.8 369.4,236.6 C374.9,238.4 376.7,241.2 379.1,245.3 C381.5,249.4 383.2,255.4 384.0,260.9 C384.8,266.4 385.1,272.6 384.0,278.4 C382.9,284.2 380.9,290.7 377.2,295.9 C373.5,301.1 368.1,305.6 361.6,309.5 C355.1,313.4 346.4,317.3 338.3,319.2 C330.2,321.1 321.4,321.3 313.0,321.1 C304.6,320.9 295.9,320.1 287.8,318.2 C279.7,316.3 270.6,313.6 264.4,309.5 C258.2,305.4 253.6,301.0 250.8,293.9 C248.1,286.8 248.2,274.5 247.9,266.7 Z" fill="#a8d08c"/>
<path d="M285.8,270.6 C286.1,266.2 288.0,265.2 291.6,262.8 C295.2,260.4 302.0,257.6 307.2,256.0 C312.4,254.4 318.5,252.9 322.7,253.1 C326.9,253.3 328.3,254.1 332.5,257.0 C336.7,259.9 345.7,267.0 348.0,270.6 C350.3,274.2 350.3,275.6 346.1,278.4 C341.9,281.1 330.5,284.8 322.7,287.1 C314.9,289.4 304.9,291.7 299.4,292.0 C293.9,292.3 292.0,292.7 289.7,289.1 C287.4,285.5 285.5,275.0 285.8,270.6 Z" fill="#dcdcde"/>
<path d="M450.8,270.6 C450.0,262.8 450.5,254.9 451.8,249.2 C453.1,243.5 454.9,240.0 458.6,236.6 C462.3,233.2 467.6,230.4 474.1,228.8 C480.6,227.2 489.4,226.6 497.5,226.9 C505.6,227.2 514.6,229.4 522.7,230.7 C530.8,232.0 538.2,234.1 546.0,234.6 C553.8,235.1 563.5,232.6 569.3,233.7 C575.1,234.8 578.1,237.5 581.0,241.4 C583.9,245.3 585.7,251.5 586.8,257.0 C587.9,262.5 588.4,268.7 587.8,274.5 C587.1,280.3 586.0,286.7 582.9,291.9 C579.8,297.1 575.4,301.6 569.3,305.5 C563.1,309.4 553.8,313.2 546.0,315.3 C538.2,317.4 530.8,318.1 522.7,318.2 C514.6,318.3 505.6,317.7 497.5,316.2 C489.4,314.7 480.9,312.8 474.1,309.4 C467.3,306.0 460.6,302.3 456.7,295.8 C452.8,289.3 451.6,278.4 450.8,270.6 Z" fill="#a8d08c"/>
<path d="M488.7,274.5 C488.4,270.8 488.5,268.5 491.6,265.7 C494.7,262.9 501.4,260.0 507.2,257.9 C513.0,255.8 521.4,253.4 526.6,253.1 C531.8,252.8 534.4,253.7 538.3,256.0 C542.2,258.3 547.5,263.5 549.9,266.7 C552.3,269.9 553.4,273.1 552.8,275.4 C552.1,277.7 551.0,278.2 546.0,280.3 C541.0,282.4 529.8,286.2 522.7,288.1 C515.6,290.1 508.2,292.0 503.3,292.0 C498.4,292.0 496.0,291.0 493.6,288.1 C491.2,285.2 489.0,278.2 488.7,274.5 Z" fill="#dcdcde"/>
<path d="M649.9,270.6 C649.2,263.2 649.3,253.3 650.8,247.3 C652.2,241.3 654.7,237.8 658.6,234.6 C662.5,231.3 667.6,229.1 674.1,227.8 C680.6,226.5 689.4,226.4 697.5,226.9 C705.6,227.4 714.6,229.4 722.7,230.7 C730.8,232.0 737.9,233.9 746.0,234.6 C754.1,235.2 765.5,233.5 771.3,234.6 C777.1,235.7 778.4,237.7 781.0,241.4 C783.6,245.1 785.7,251.8 786.8,257.0 C787.9,262.2 788.3,267.0 787.8,272.5 C787.3,278.0 786.6,284.8 783.9,290.0 C781.1,295.2 777.6,299.4 771.3,303.6 C765.0,307.8 754.8,312.7 746.0,315.3 C737.2,317.9 727.5,319.0 718.8,319.1 C710.1,319.2 701.7,318.1 693.6,316.2 C685.5,314.3 676.8,311.6 670.3,307.5 C663.8,303.4 658.1,298.0 654.7,291.9 C651.3,285.8 650.5,278.0 649.9,270.6 Z" fill="#a8d08c"/>
<path d="M687.7,274.5 C687.7,270.6 688.4,267.6 691.6,264.7 C694.9,261.8 701.7,258.9 707.2,257.0 C712.7,255.1 720.2,253.1 724.7,253.1 C729.2,253.1 730.5,254.4 734.4,257.0 C738.3,259.6 745.1,265.6 748.0,268.6 C750.9,271.6 751.8,272.9 751.5,274.8 C751.2,276.8 750.8,278.1 746.0,280.3 C741.2,282.5 730.2,286.2 722.7,288.1 C715.2,290.1 706.5,292.0 701.3,292.0 C696.1,292.0 693.9,291.0 691.6,288.1 C689.3,285.2 687.7,278.4 687.7,274.5 Z" fill="#dcdcde"/>
<defs><linearGradient id="sg" x1="0" y1="0" x2="1" y2="1"><stop offset="0" stop-color="#22b04c"/><stop offset="1" stop-color="#0c8a34"/></linearGradient></defs>
<path d="M502.5,246.7 C502.8,246.2 505.9,244.8 506.8,244.7 C507.7,244.6 510.5,245.8 511.7,246.1 C512.9,246.4 518.0,247.5 518.4,248.0 C518.8,248.5 516.3,250.6 515.4,251.0 C514.5,251.4 510.4,252.4 509.2,252.3 C508.0,252.2 504.4,250.4 503.7,249.8 C503.0,249.2 502.2,247.2 502.5,246.7 Z" fill="url(#sg)"/>
<path d="M540.5,250.4 C541.0,250.0 547.1,250.0 548.5,250.4 C549.9,250.8 553.8,253.6 554.6,254.7 C555.5,255.8 557.1,260.7 557.0,261.5 C556.9,262.3 554.2,262.9 553.4,262.7 C552.5,262.5 549.5,260.4 548.5,259.6 C547.5,258.8 544.3,255.6 543.5,254.7 C542.7,253.8 540.0,250.8 540.5,250.4 Z" fill="url(#sg)"/>
<path d="M492.1,254.7 C492.8,254.9 492.4,258.6 492.1,259.6 C491.9,260.6 490.3,263.9 489.6,264.5 C488.9,265.1 485.6,265.3 484.7,265.1 C483.8,264.9 481.0,262.9 481.0,262.1 C481.0,261.3 483.6,257.9 484.7,257.2 C485.8,256.5 491.4,254.5 492.1,254.7 Z" fill="url(#sg)"/>
<path d="M481.6,274.9 C482.2,275.1 483.4,279.3 483.5,280.5 C483.6,281.7 482.9,286.3 482.3,287.2 C481.7,288.1 478.4,289.7 477.4,289.6 C476.4,289.5 473.0,286.8 472.5,286.0 C472.0,285.2 472.0,282.5 472.5,281.7 C473.0,280.9 476.5,278.7 477.4,278.0 C478.3,277.3 481.0,274.6 481.6,274.9 Z" fill="url(#sg)"/>
<path d="M555.8,281.1 C556.4,281.4 557.1,284.4 557.0,285.4 C556.9,286.4 555.2,290.0 554.6,290.9 C554.0,291.8 551.6,294.0 550.9,293.9 C550.2,293.8 547.6,291.2 547.2,290.3 C546.8,289.4 546.2,286.2 546.6,285.4 C547.0,284.6 550.0,282.7 550.9,282.3 C551.8,281.9 555.2,280.8 555.8,281.1 Z" fill="url(#sg)"/>
<path d="M492.7,295.2 C493.2,294.8 497.6,295.6 499.4,295.8 C501.2,296.0 509.8,297.1 510.5,297.6 C511.2,298.1 507.9,300.3 506.8,300.7 C505.7,301.1 500.7,301.4 499.4,301.3 C498.1,301.2 494.6,300.1 493.9,299.5 C493.2,298.9 492.1,295.6 492.7,295.2 Z" fill="url(#sg)"/>
<path d="M536.2,290.9 C536.9,291.2 537.0,294.9 536.8,295.8 C536.5,296.7 534.6,299.7 533.7,300.1 C532.8,300.5 528.4,300.5 527.6,300.1 C526.8,299.7 525.5,297.1 525.8,296.4 C526.0,295.7 529.1,293.2 530.1,292.7 C531.1,292.1 535.5,290.6 536.2,290.9 Z" fill="url(#sg)"/>
<text transform="translate(312.30,334.40) scale(1,1.05)" font-size="15" text-anchor="middle" font-weight="normal" fill="#111" >Incubation with</text>
<text transform="translate(315.50,351.90) scale(1,1.05)" font-size="15" text-anchor="middle" font-weight="normal" fill="#111" >fluorogenic dyes</text>
<text transform="translate(517.70,334.30) scale(1,1.05)" font-size="15" text-anchor="middle" font-weight="normal" fill="#111" >Stress-induced</text>
<text transform="translate(518.80,351.40) scale(1,1.05)" font-size="15" text-anchor="middle" font-weight="normal" fill="#111" >SG assembly</text>
<text transform="translate(712.10,333.70) scale(1,1.05)" font-size="15" text-anchor="middle" font-weight="normal" fill="#111" >SG disassembly</text>
<g font-size="20.5" font-weight="bold" fill="#000"><text transform="translate(8.80,395.90) scale(1,1.09)">(</text><text x="15.63" y="396.80">C</text><text transform="translate(30.43,395.90) scale(1,1.09)">)</text></g>
<defs><radialGradient id="glowC"><stop offset="0.5" stop-color="#ff1a1a" stop-opacity="1"/><stop offset="0.72" stop-color="#ff2a2a" stop-opacity="0.6"/><stop offset="1" stop-color="#ff6060" stop-opacity="0"/></radialGradient><radialGradient id="fillC"><stop offset="0" stop-color="#ff0d0d"/><stop offset="1" stop-color="#ff2a1e"/></radialGradient><radialGradient id="glowD"><stop offset="0.45" stop-color="#e8683c" stop-opacity="1"/><stop offset="0.7" stop-color="#f08058" stop-opacity="0.5"/><stop offset="1" stop-color="#f8a080" stop-opacity="0"/></radialGradient><radialGradient id="fillD" cx="0.5" cy="0.5" r="0.5"><stop offset="0" stop-color="#e05a2e"/><stop offset="1" stop-color="#ec8a64"/></radialGradient><linearGradient id="nluc" x1="0" y1="0" x2="1" y2="0.3"><stop offset="0" stop-color="#28aef0"/><stop offset="1" stop-color="#1480c0"/></linearGradient><linearGradient id="fpg" x1="0" y1="0" x2="1" y2="0"><stop offset="0" stop-color="#14a048"/><stop offset="0.5" stop-color="#1cb454"/><stop offset="1" stop-color="#129a44"/></linearGradient></defs>
<circle cx="62.9" cy="454.7" r="30" fill="url(#glowC)"/>
<g transform="translate(79.3,418) rotate(24.1)" fill="none" stroke="#d2661e" stroke-width="2.1"><path d="M-7,8.5 A11,11 0 1 1 7,8.5"/><path d="M-7,8.5 V24 M7,8.5 V24"/><path d="M-4,12.6 H5.5 M-4,16.4 H5.5 M-4,20.2 H5.5" stroke-width="2"/></g>
<g transform="translate(62.9,454.7) rotate(-20.6)" fill="none" stroke="#d2661e" stroke-width="2.1"><path d="M-7.6,15.5 V40.5 M7.6,14.5 V38.5"/><path d="M-4.5,21.5 H5 M-4.5,25.5 H5 M-4.5,29.5 H5 M-4.5,33.5 H5 M-4.5,37.2 H5" stroke-width="2"/></g>
<circle cx="62.9" cy="454.7" r="17.4" fill="url(#fillC)" stroke="#d8501e" stroke-width="2"/>
<circle cx="62.9" cy="454.7" r="5.4" fill="none" stroke="#a01818" stroke-width="1"/>
<text transform="translate(48.90,488.10) scale(1,1.05)" font-size="15" text-anchor="middle" font-weight="normal" fill="#111" >FR</text>
<path d="M86.9,488.3 C91,483 96,482.5 101,485 C105,487.5 109,491 114,490.6" fill="none" stroke="#808080" stroke-width="2"/>
<path d="M165.5,432 C167,428.5 168.5,426 169,421.5" fill="none" stroke="#8a8a8a" stroke-width="2"/>
<path d="M157.2,459.6 C159,462.5 160.5,465.5 162.5,467 C164,468 165.5,468.3 167.3,468.3" fill="none" stroke="#808080" stroke-width="2"/>
<path d="M128.96,431.82 A20.60,20.60 0 1 1 139.60,460.31 A19.80,19.80 0 0 0 128.96,431.82 Z" fill="#7d5c10" stroke="#2e2208" stroke-width="0.9"/>
<text transform="translate(148.0,441.8) rotate(36) scale(1,1.08)" font-size="16" text-anchor="middle" fill="#1a1206">POI</text>
<g transform="translate(184.2,397.3) rotate(32)" stroke="#1d3a20" stroke-width="0.9"><path d="M-14.7,0 V25.4 A14.7,3.9 0 0 0 14.7,25.4 V0 Z" fill="url(#fpg)"/><ellipse cx="0" cy="0" rx="14.7" ry="3.9" fill="#8ed2a6"/><text transform="translate(1.4,21.0) scale(1,1.05)" font-size="16.5" text-anchor="middle" fill="#0d1a0d" stroke="none">FP</text></g>
<g fill="none" stroke="#62381e" stroke-width="1.8"><path d="M114.0,490.6 V466.2 A17.9,17.9 0 1 1 130.8,466.2 V490.6" fill="#fff"/><path d="M117.6,470.5 H127.1 M117.6,475.4 H127.1 M117.6,480.4 H127.1 M117.6,485.7 H127.1" stroke-width="1.8"/></g>
<text transform="translate(121.00,455.10) scale(1,1.05)" font-size="14.3" text-anchor="middle" font-weight="normal" fill="#111" >ROI</text>
<path d="M166.8,463.6 L178.6,467.8 L169.3,475.5 Z" fill="#6e28b0" stroke="#1e0a36" stroke-width="0.9" stroke-linejoin="round"/>
<text transform="translate(174.70,491.80) scale(1,1.05)" font-size="15" text-anchor="middle" font-weight="normal" fill="#111" >Localization</text>
<text transform="translate(176.30,504.20) scale(1,1.05)" font-size="15" text-anchor="middle" font-weight="normal" fill="#111" >signal</text>
<path d="M240.9,425.6 C240.9,418.3 240.9,409.4 242.9,403.8 C244.9,398.2 248.2,394.9 252.8,391.9 C257.4,388.9 263.8,386.9 270.7,385.9 C277.6,384.9 286.5,385.1 294.4,385.9 C302.3,386.7 310.3,389.6 318.2,390.9 C326.1,392.2 335.1,393.4 342.0,393.9 C348.9,394.4 354.9,392.6 359.8,393.9 C364.8,395.2 368.7,397.5 371.7,401.8 C374.7,406.1 376.9,413.3 377.7,419.6 C378.5,425.9 378.0,433.4 376.7,439.4 C375.4,445.3 373.5,450.7 369.7,455.3 C365.9,459.9 360.8,463.6 353.9,467.2 C347.0,470.8 337.0,475.0 328.1,477.1 C319.2,479.2 310.0,480.4 300.4,480.1 C290.8,479.8 278.9,477.9 270.7,475.1 C262.4,472.3 255.5,467.8 250.9,463.2 C246.3,458.6 244.6,453.7 242.9,447.4 C241.2,441.1 240.9,432.9 240.9,425.6 Z" fill="#d9d9d9"/>
<path d="M279.6,432.5 C280.0,430.2 281.0,426.1 283.0,424.2 C285.0,422.3 290.2,420.1 294.4,418.4 C298.6,416.7 310.6,412.5 314.3,411.7 C318.0,410.9 319.6,411.3 322.2,412.5 C324.8,413.7 331.3,418.0 334.1,420.6 C336.9,423.2 342.5,429.6 343.2,431.8 C343.9,434.0 342.3,435.4 339.0,437.0 C335.7,438.6 324.4,442.2 318.5,444.0 C312.6,445.8 298.9,449.7 294.4,450.3 C289.9,450.9 286.4,449.6 284.5,448.4 C282.6,447.2 281.0,443.5 280.3,441.4 C279.6,439.3 279.2,434.8 279.6,432.5 Z" fill="#f8b800"/>
<text transform="translate(309.20,503.50) scale(1,1.05)" font-size="15" text-anchor="middle" font-weight="normal" fill="#111" >Colocalized fluorescent</text>
<text transform="translate(309.20,521.90) scale(1,1.05)" font-size="15" text-anchor="middle" font-weight="normal" fill="#111" >signals of FR and FP</text>
<g font-size="20.5" font-weight="bold" fill="#000"><text transform="translate(413.50,395.90) scale(1,1.09)">(</text><text x="420.33" y="396.80">D</text><text transform="translate(435.13,395.90) scale(1,1.09)">)</text></g>
<circle cx="467.2" cy="443.4" r="30" fill="url(#glowD)"/>
<g transform="translate(498.6,417.4) rotate(50.4)" fill="none" stroke="#d85a1e" stroke-width="2"><path d="M-6.8,7.7 A10.3,10.3 0 1 1 6.8,7.7"/><path d="M-6.8,7.7 V26 M6.8,7.7 V26"/><path d="M-3,13.5 H5 M-3,17.2 H5 M-3,20.9 H5" stroke-width="2"/></g>
<g fill="none" stroke="#d85a1e" stroke-width="2"><path d="M459.2,458 V483.7 M475.3,458 V483.7"/><path d="M462.8,464 H471.8 M462.8,467.7 H471.8 M462.8,471.4 H471.8 M462.8,475.1 H471.8 M462.8,478.8 H471.8" stroke-width="1.9"/></g>
<circle cx="467.2" cy="443.4" r="17.1" fill="url(#fillD)" stroke="#d85a1e" stroke-width="1.8"/>
<circle cx="467.6" cy="443.4" r="5.3" fill="none" stroke="#8a3010" stroke-width="1"/>
<text transform="translate(446.60,472.80) scale(1,1.05)" font-size="15" text-anchor="middle" font-weight="normal" fill="#111" >FR</text>
<path d="M475.3,484.5 C481,484.5 486,485.5 490,489 C494,493 496,497 500,498.3" fill="none" stroke="#808080" stroke-width="2"/>
<path d="M559.2,436.5 C562,439 564,441 565.6,444.5" fill="none" stroke="#808080" stroke-width="2"/>
<path d="M539.93,467.21 A21.30,21.30 0 1 1 565.60,485.72 A23.00,23.00 0 0 0 539.93,467.21 Z" fill="#7d5c10"/>
<path d="M539.93,467.21 A21.30,21.30 0 1 1 565.60,485.72" fill="none" stroke="#2e2208" stroke-width="0.9"/>
<text transform="translate(564.30,466.80) scale(1,1.05)" font-size="15" text-anchor="middle" font-weight="normal" fill="#111" >POI</text>
<circle cx="544.2" cy="424.5" r="19.4" fill="url(#nluc)" stroke="#1a2a3a" stroke-width="0.9"/>
<text transform="translate(545.00,429.20) scale(1,1.05)" font-size="15.5" text-anchor="middle" font-weight="normal" fill="#06121e" >NLuc</text>
<text transform="translate(550.30,396.00) scale(1,1.05)" font-size="15" text-anchor="middle" font-weight="normal" fill="#111" >BRET</text>
<path d="M535,403.7 C531,396 521,394 512,400.5" fill="none" stroke="#000" stroke-width="1.7"/>
<path d="M507,404.8 L510.5,396.6 L515.2,403 Z" fill="#000"/>
<g transform="translate(539.3,487.7) rotate(64)" fill="none" stroke="#64381e" stroke-width="1.9"><path d="M-8.4,14.9 V41 M8.4,14.9 V41"/><path d="M-8.4,14.9 A17.1,17.1 0 1 1 8.4,14.9" fill="#fff"/><path d="M-5,20.5 H5 M-5,25 H5 M-5,29.5 H5 M-5,34 H5" stroke-width="2.1"/></g>
<text transform="translate(537.60,492.80) scale(1,1.05)" font-size="15" text-anchor="middle" font-weight="normal" fill="#111" >ROI</text>
<line x1="634.7" y1="494.8" x2="634.7" y2="393.9" stroke="#000" stroke-width="1.6"/>
<path d="M634.7,386.9 L630.4,395.5 L639.0,395.5 Z" fill="#000"/>
<line x1="633.9" y1="494.0" x2="772.1" y2="494.0" stroke="#000" stroke-width="1.6"/>
<path d="M779.1,494.0 L770.5,489.7 L770.5,498.3 Z" fill="#000"/>
<line x1="644.5" y1="389.5" x2="663.3" y2="389.5" stroke="#888" stroke-width="2.2"/>
<line x1="643.6" y1="405.1" x2="662.3" y2="405.1" stroke="#e5531e" stroke-width="2.2"/>
<text transform="translate(707.90,393.60) scale(1,1.05)" font-size="13.5" text-anchor="middle" font-weight="normal" fill="#111" >No interaction</text>
<text transform="translate(720.20,410.20) scale(1,1.05)" font-size="13.5" text-anchor="middle" font-weight="normal" fill="#111" >Strong interaction</text>
<path d="M692.3,457.8 C693.9,459.4 698.9,464.2 702.1,467.5 C705.4,470.8 708.5,474.8 711.8,477.3 C715.1,479.8 718.4,481.1 722.0,482.5 C725.6,483.9 728.1,484.8 733.6,486.0 C739.1,487.2 748.3,489.0 755.3,489.9 C762.3,490.8 772.1,491.0 775.5,491.2 " fill="none" stroke="#888" stroke-width="2.2"/>
<path d="M635.9,492.1 C637.0,491.1 639.9,491.4 642.4,486.0 C644.9,480.6 648.2,468.9 651.1,459.9 C654.0,450.8 657.0,438.5 659.7,431.7 C662.4,424.9 665.3,420.9 667.3,419.1 C669.3,417.3 669.4,417.7 671.7,420.9 C674.1,424.1 678.0,432.0 681.4,438.2 C684.8,444.4 688.8,452.9 692.3,457.8 C695.8,462.7 699.4,465.6 702.1,467.5 C704.8,469.4 706.6,469.5 708.6,469.1 C710.6,468.8 711.6,469.8 714.0,465.4 C716.4,461.0 719.8,449.1 722.7,442.6 C725.6,436.1 728.9,429.8 731.4,426.3 C733.9,422.9 735.7,421.9 737.9,421.9 C740.1,421.9 741.5,423.2 744.4,426.3 C747.3,429.4 751.7,435.5 755.3,440.4 C758.9,445.3 762.1,450.7 766.1,455.6 C770.1,460.5 776.9,467.4 779.1,469.7 " fill="none" stroke="#e5531e" stroke-width="2.5" stroke-linejoin="round"/>
<line x1="737.2" y1="455.6" x2="737.2" y2="436" stroke="#000" stroke-width="1.6"/>
<path d="M737.2,429.1 L733.4,437.4 L741,437.4 Z" fill="#000"/>
<text transform="translate(747.60,467.30) scale(1,1.05)" font-size="14" text-anchor="middle" font-weight="normal" fill="#111" >FR</text>
<text transform="translate(747.40,478.10) scale(1,1.05)" font-size="14" text-anchor="middle" font-weight="normal" fill="#111" >emission</text>
<text transform="translate(702.80,514.60) scale(1,1.05)" font-size="15" text-anchor="middle" font-weight="normal" fill="#111" >Wavelength</text>
<text transform="translate(623.2,444.2) rotate(-90) scale(1,1.05)" font-size="15" text-anchor="middle" fill="#111">Normalized em</text>
</svg></body></html>
